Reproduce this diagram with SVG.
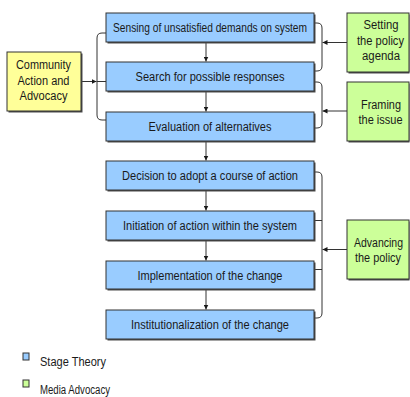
<svg xmlns="http://www.w3.org/2000/svg" width="410" height="397" viewBox="0 0 410 397">
<style>
.bg{fill:#ffffff}
.sh{fill:#4d4d4d}
.blue{fill:#99ccff;stroke:#333333;stroke-width:1}
.yellow{fill:#ffff99;stroke:#333333;stroke-width:1}
.green{fill:#ccff99;stroke:#333333;stroke-width:1}
text{font-family:"Liberation Sans",Arial,sans-serif;font-size:12.5px;fill:#1a1a1a}
.c{text-anchor:middle}
.con{fill:none;stroke:#333333;stroke-width:1}
</style>
<defs>
<marker id="ah" viewBox="0 0 10 10" refX="10" refY="5" markerWidth="5" markerHeight="5" markerUnits="userSpaceOnUse" orient="auto">
<path d="M0,0 L10,5 L0,10 Z" fill="#1a1a1a"/>
</marker>
</defs>
<rect class="bg" x="0" y="0" width="410" height="397"/>

<g id="connectors">
<line class="con" x1="206" y1="42" x2="206" y2="61.5" marker-end="url(#ah)"/>
<line class="con" x1="206" y1="91" x2="206" y2="111.5" marker-end="url(#ah)"/>
<line class="con" x1="206" y1="141" x2="206" y2="160.5" marker-end="url(#ah)"/>
<line class="con" x1="206" y1="190" x2="206" y2="210.5" marker-end="url(#ah)"/>
<line class="con" x1="206" y1="240" x2="206" y2="260.5" marker-end="url(#ah)"/>
<line class="con" x1="206" y1="289" x2="206" y2="309.5" marker-end="url(#ah)"/>
<path class="con" d="M106,33 L102,33 Q97,33 97,38 L97,115 Q97,120 102,120 L106,120"/>
<line class="con" x1="81" y1="81.5" x2="96.5" y2="81.5" marker-end="url(#ah)"/>
<line class="con" x1="97" y1="81.5" x2="106" y2="81.5"/>
<path class="con" d="M314,23 L317,23 Q322,23 322,28 L322,66 Q322,71 317,71 L314,71"/>
<line class="con" x1="347" y1="42.5" x2="322.5" y2="42.5" marker-end="url(#ah)"/>
<path class="con" d="M314,82 L317,82 Q322,82 322,87 L322,123 Q322,128 317,128 L314,128"/>
<line class="con" x1="347" y1="111" x2="322.5" y2="111" marker-end="url(#ah)"/>
<path class="con" d="M314,172 L317,172 Q322,172 322,177 L322,313 Q322,318 317,318 L314,318"/>
<line class="con" x1="314" y1="220.5" x2="322" y2="220.5"/>
<line class="con" x1="314" y1="269.5" x2="322" y2="269.5"/>
<line class="con" x1="347" y1="249.5" x2="322.5" y2="249.5" marker-end="url(#ah)"/>
</g>

<g id="n1">
<rect class="sh" x="107.5" y="14.5" width="208" height="29"/>
<rect class="blue" x="106" y="13" width="208" height="29"/>
<text class="c" x="210" y="32" textLength="194" lengthAdjust="spacingAndGlyphs">Sensing of unsatisfied demands on system</text>
</g>
<g id="n2">
<rect class="sh" x="107.5" y="63.5" width="208" height="29"/>
<rect class="blue" x="106" y="62" width="208" height="29"/>
<text class="c" x="210" y="81" textLength="149" lengthAdjust="spacingAndGlyphs">Search for possible responses</text>
</g>
<g id="n3">
<rect class="sh" x="107.5" y="113.5" width="208" height="29"/>
<rect class="blue" x="106" y="112" width="208" height="29"/>
<text class="c" x="210" y="131" textLength="123" lengthAdjust="spacingAndGlyphs">Evaluation of alternatives</text>
</g>
<g id="n4">
<rect class="sh" x="107.5" y="162.5" width="208" height="29"/>
<rect class="blue" x="106" y="161" width="208" height="29"/>
<text class="c" x="210" y="180" textLength="176" lengthAdjust="spacingAndGlyphs">Decision to adopt a course of action</text>
</g>
<g id="n5">
<rect class="sh" x="107.5" y="212.5" width="208" height="29"/>
<rect class="blue" x="106" y="211" width="208" height="29"/>
<text class="c" x="210" y="230" textLength="174" lengthAdjust="spacingAndGlyphs">Initiation of action within the system</text>
</g>
<g id="n6">
<rect class="sh" x="107.5" y="262.5" width="208" height="28"/>
<rect class="blue" x="106" y="261" width="208" height="28"/>
<text class="c" x="210" y="279.5" textLength="145" lengthAdjust="spacingAndGlyphs">Implementation of the change</text>
</g>
<g id="n7">
<rect class="sh" x="107.5" y="311.5" width="208" height="29"/>
<rect class="blue" x="106" y="310" width="208" height="29"/>
<text class="c" x="210" y="329" textLength="158" lengthAdjust="spacingAndGlyphs">Institutionalization of the change</text>
</g>

<g id="community">
<rect class="sh" x="8.5" y="53.5" width="74" height="59"/>
<rect class="yellow" x="7" y="52" width="74" height="59"/>
<text class="c" x="43.5" y="69" textLength="55" lengthAdjust="spacingAndGlyphs">Community</text>
<text class="c" x="43.5" y="84.5" textLength="52" lengthAdjust="spacingAndGlyphs">Action and</text>
<text class="c" x="43.5" y="100" textLength="48" lengthAdjust="spacingAndGlyphs">Advocacy</text>
</g>

<g id="setting">
<rect class="sh" x="348.5" y="14.5" width="61" height="59"/>
<rect class="green" x="347" y="13" width="62" height="59"/>
<text class="c" x="381" y="29" textLength="35" lengthAdjust="spacingAndGlyphs">Setting</text>
<text class="c" x="380.5" y="44.5" textLength="47" lengthAdjust="spacingAndGlyphs">the policy</text>
<text class="c" x="381" y="60" textLength="38" lengthAdjust="spacingAndGlyphs">agenda</text>
</g>
<g id="framing">
<rect class="sh" x="348.5" y="83.5" width="61" height="59"/>
<rect class="green" x="347" y="82" width="62" height="59"/>
<text class="c" x="381" y="108.5" textLength="40" lengthAdjust="spacingAndGlyphs">Framing</text>
<text class="c" x="380.5" y="123.5" textLength="44" lengthAdjust="spacingAndGlyphs">the issue</text>
</g>
<g id="advancing">
<rect class="sh" x="348.5" y="221.5" width="61" height="59"/>
<rect class="green" x="347" y="220" width="62" height="59"/>
<text class="c" x="378.5" y="247" textLength="49" lengthAdjust="spacingAndGlyphs">Advancing</text>
<text class="c" x="378" y="262" textLength="46" lengthAdjust="spacingAndGlyphs">the policy</text>
</g>

<g id="legend">
<rect class="blue" x="23" y="353" width="6" height="7"/>
<text x="40" y="365.5" textLength="66" lengthAdjust="spacingAndGlyphs">Stage Theory</text>
<rect class="green" x="23" y="380" width="6" height="7"/>
<text x="40" y="393.5" textLength="70" lengthAdjust="spacingAndGlyphs">Media Advocacy</text>
</g>
</svg>
